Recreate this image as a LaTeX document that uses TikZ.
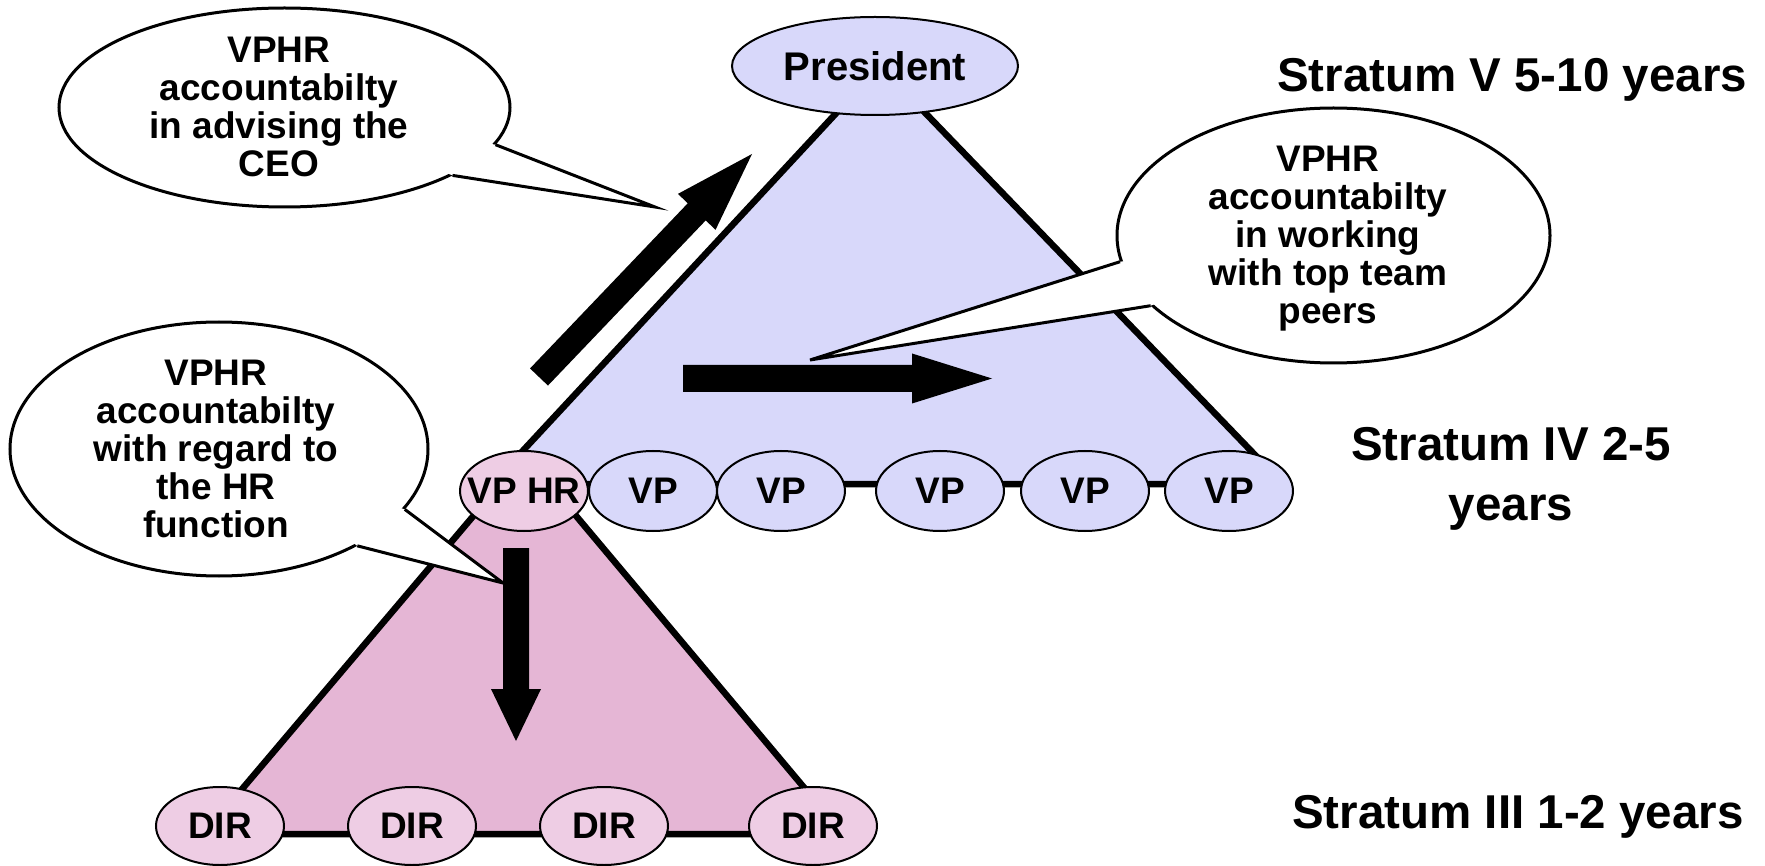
\documentclass[tikz,border=0pt]{standalone}
\usepackage{fontspec}
\setmainfont{Liberation Sans}
\usetikzlibrary{calc,shapes.geometric}

\definecolor{upperfill}{RGB}{216,216,250}
\definecolor{lowerfill}{RGB}{229,182,213}
\definecolor{hrfill}{RGB}{238,205,228}

% solid block arrow: tail, tip, half shaft width, half head width, head length
\newcommand{\blockarrow}[5]{%
  \coordinate (ahead) at ($(#2)!#5!(#1)$);
  \fill[blockfill] ($(#1)!#3!90:(#2)$) -- ($(ahead)!#3!90:(#2)$) -- ($(ahead)!#4!90:(#2)$)
    -- (#2) -- ($(ahead)!#4!-90:(#2)$) -- ($(ahead)!#3!-90:(#2)$) -- ($(#1)!#3!-90:(#2)$) -- cycle;}

% speech-bubble pointer: bubble node, border angle, tip, border angle
\newcommand{\bubbletail}[4]{%
  \fill[white] ($(#1.#2)!0.06!(#1.center)$) -- (#1.#2) -- (#3) -- (#1.#4) -- ($(#1.#4)!0.06!(#1.center)$) -- cycle;
  \draw[bubbleline] (#1.#2) -- (#3) -- (#1.#4);}

\tikzset{
  bubble/.style={ellipse, draw=black, line width=3pt, fill=white, inner sep=0pt},
  bubbleline/.style={draw=black, line width=3pt},
  btext/.style={font=\bfseries\fontsize{37}{38}\selectfont, align=center, inner sep=0pt, anchor=north},
  rolebox/.style={ellipse, draw=black, line width=2pt, inner sep=0pt,
    font=\bfseries\fontsize{37}{38}\selectfont, minimum width=128pt, minimum height=80pt},
  vp/.style={rolebox, fill=upperfill},
  hr/.style={rolebox, fill=hrfill},
  strat/.style={font=\bfseries\fontsize{47.5}{60}\selectfont, align=center, inner sep=0pt},
  tri/.style={draw=black, line width=6.5pt, line join=round},
  blockfill/.style={fill=black},
}

\begin{document}
\begin{tikzpicture}[x=1pt,y=-1pt]
\useasboundingbox (0,0) rectangle (1765,866);

% upper pyramid (President and VPs)
\coordinate (uA) at (880,66);
\coordinate (uL) at (492,484);
\coordinate (uR) at (1283,484);
\filldraw[tri, fill=upperfill] (uA) -- (uL) -- (uR) -- cycle;

% lower pyramid (VP HR and directors)
\coordinate (lA) at (525,455);
\coordinate (lL) at (204,834);
\coordinate (lR) at (843,834);
\filldraw[tri, fill=lowerfill] (lA) -- (lL) -- (lR) -- cycle;

% direction arrows
\coordinate (a1s) at (539,377); \coordinate (a1e) at (752,154);
\coordinate (a2s) at (683,378.5); \coordinate (a2e) at (992,378.5);
\coordinate (a3s) at (516,548); \coordinate (a3e) at (516,741);
\blockarrow{a1s}{a1e}{12.4pt}{26pt}{80pt}
\blockarrow{a2s}{a2e}{13.5pt}{25pt}{80pt}
\blockarrow{a3s}{a3e}{13pt}{25pt}{52pt}

% roles
\node[vp, minimum width=286pt, minimum height=98pt] (pres) at (875,66)
  {\makebox[0pt]{\fontsize{40}{40}\selectfont President}};
\node[hr] (vphr) at (524,491) {\makebox[0pt]{VP HR}};
\node[vp] (vp1) at (653,491) {\makebox[0pt]{VP}};
\node[vp] (vp2) at (781,491) {\makebox[0pt]{VP}};
\node[vp] (vp3) at (940,491) {\makebox[0pt]{VP}};
\node[vp] (vp4) at (1085,491) {\makebox[0pt]{VP}};
\node[vp] (vp5) at (1229,491) {\makebox[0pt]{VP}};
\node[hr, minimum height=78pt] (dir1) at (220,826) {\makebox[0pt]{DIR}};
\node[hr, minimum height=78pt] (dir2) at (412,826) {\makebox[0pt]{DIR}};
\node[hr, minimum height=78pt] (dir3) at (604,826) {\makebox[0pt]{DIR}};
\node[hr, minimum height=78pt] (dir4) at (813,826) {\makebox[0pt]{DIR}};

% speech bubbles
\node[bubble, minimum width=451pt, minimum height=199pt] (b1) at (284.5,107.5) {};
\coordinate (t1) at (655,207);
\bubbletail{b1}{-10}{t1}{-22}
\node[btext] (b1t) at (279,36.5) {VPHR\\accountabilty\\in advising the\\CEO};

\node[bubble, minimum width=433pt, minimum height=255pt] (b2) at (1333.5,235.5) {};
\coordinate (t2) at (810,360);
\bubbletail{b2}{187}{t2}{201}
\node[btext] (b2t) at (1328,145.5) {VPHR\\accountabilty\\in working\\with top team\\peers};

\node[bubble, minimum width=418pt, minimum height=254pt] (b3) at (219,449) {};
\coordinate (t3) at (503,583);
\bubbletail{b3}{-18}{t3}{-35}
\node[btext] (b3t) at (216,359.5) {VPHR\\accountabilty\\with regard to\\the HR\\function};

% strata
\node[strat, anchor=base] (s5) at (1512,92) {Stratum V 5-10 years};
\node[strat, anchor=north] (s4) at (1511,427) {Stratum IV 2-5\\years};
\node[strat, anchor=base] (s3) at (1518,828) {Stratum III 1-2 years};
\end{tikzpicture}
\end{document}
